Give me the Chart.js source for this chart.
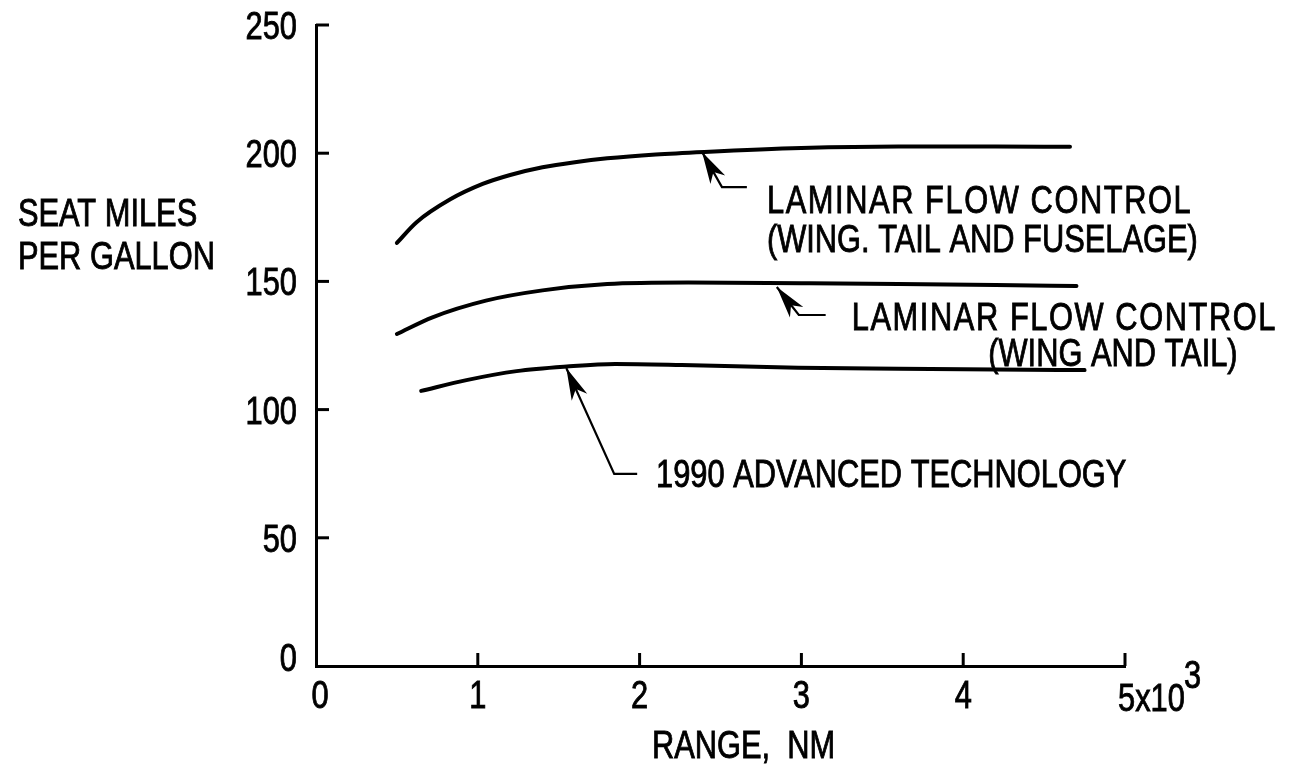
<!DOCTYPE html>
<html>
<head>
<meta charset="utf-8">
<script src="https://cdn.jsdelivr.net/npm/chart.js@4.4.1/dist/chart.umd.min.js"></script>
<style>
  html, body { margin: 0; padding: 0; background: #fff; }
  #wrap { width: 1291px; height: 783px; }
</style>
</head>
<body>
<div id="wrap"><canvas id="myChart"></canvas></div>
<script>
// range in thousands of nautical miles, seat miles per gallon
const xTicks = [0, 1, 2, 3, 4, 5];
const yTicks = [0, 50, 100, 150, 200, 250];

const lfcFullX = [0.5, 0.62, 0.83, 1.03, 1.2, 1.4, 1.6, 1.8, 2.1, 2.4, 3.0, 3.6, 4.2, 4.66];
const lfcFullY = [165, 173, 182, 188, 191.5, 194.5, 196.5, 198, 199.5, 200.5, 202, 202.6, 202.6, 202.5];

const lfcWingX = [0.5, 0.72, 1.05, 1.4, 1.8, 2.3, 3.0, 3.6, 4.2, 4.7];
const lfcWingY = [129.5, 136, 142.5, 146.5, 149, 149.6, 149.3, 149, 148.6, 148.2];

const advX = [0.65, 0.93, 1.24, 1.55, 1.85, 2.26, 2.98, 3.6, 4.2, 4.75];
const advY = [107.3, 111.5, 115, 116.8, 117.8, 117.4, 116.3, 115.9, 115.6, 115.4];

// callouts: arrow tip, elbow, end of leader, then text lines (data units)
const callouts = [
  { tip: [2.386, 200.5], elbow: [2.509, 186.8], end: [2.663, 186.8],
    lines: [{ t: 'LAMINAR FLOW CONTROL', x: 2.787, y: 182.1, sp: 2 },
            { t: '(WING. TAIL AND FUSELAGE)', x: 2.787, y: 166.9, sp: 0 }] },
  { tip: [2.848, 147.8], elbow: [2.984, 136.9], end: [3.150, 136.9],
    lines: [{ t: 'LAMINAR FLOW CONTROL', x: 3.311, y: 136.5, sp: 2 },
            { t: '(WING AND TAIL)', x: 4.155, y: 122.5, sp: 0 }] },
  { tip: [1.547, 116.2], elbow: [1.843, 74.9], end: [1.985, 74.9],
    lines: [{ t: '1990 ADVANCED TECHNOLOGY', x: 2.102, y: 75.3, sp: 0 }] }
];

const FONT = '"Liberation Sans", Arial, sans-serif';
const FSIZE = 39;
const SX = 0.79; // squeeze to look like the narrow lettering

function pts(xs, ys) {
  return xs.map((x, i) => ({ x: x, y: ys[i] }));
}

function curve(xs, ys) {
  return {
    data: pts(xs, ys),
    borderColor: '#000',
    borderWidth: 4,
    pointRadius: 0,
    fill: false,
    cubicInterpolationMode: 'monotone',
    borderCapStyle: 'round'
  };
}

// text centred vertically on cy (cap height), narrow squeeze
function label(ctx, str, x, cy, align, sp, size) {
  size = size || FSIZE;
  ctx.save();
  ctx.font = size + 'px ' + FONT;
  ctx.letterSpacing = (sp || 0) + 'px';
  ctx.textBaseline = 'alphabetic';
  ctx.textAlign = align || 'left';
  ctx.translate(x, cy + size * 0.36);
  ctx.scale(SX, 1);
  ctx.lineWidth = 0.9;
  ctx.fillText(str, 0, 0);
  ctx.strokeText(str, 0, 0);
  ctx.restore();
}

const extras = {
  id: 'extras',
  afterDraw(chart) {
    const ctx = chart.ctx;
    const xs = chart.scales.x, ys = chart.scales.y;
    const area = chart.chartArea;
    ctx.save();
    ctx.strokeStyle = '#000';
    ctx.fillStyle = '#000';

    // inward tick marks
    ctx.lineWidth = 3;
    yTicks.slice(1).forEach(v => {
      const py = ys.getPixelForValue(v);
      ctx.beginPath();
      ctx.moveTo(area.left, py);
      ctx.lineTo(area.left + 13, py);
      ctx.stroke();
    });
    xTicks.slice(1).forEach(v => {
      const px = xs.getPixelForValue(v);
      ctx.beginPath();
      ctx.moveTo(px, area.bottom);
      ctx.lineTo(px, area.bottom - 13);
      ctx.stroke();
    });

    // tick labels
    ys.ticks.forEach(t => {
      const py = ys.getPixelForValue(t.value) - (t.value === 0 ? 9 : 0);
      label(ctx, String(t.value), area.left - 19, py, 'right');
    });
    xs.ticks.forEach(t => {
      const px = xs.getPixelForValue(t.value);
      if (t.value === 5) {
        label(ctx, '5x10', px - 7, 697, 'left');
        label(ctx, '3', px + 59, 674, 'left');
      } else {
        label(ctx, String(t.value), px + (t.value === 0 ? 4 : 0), 694, 'center');
      }
    });

    // axis titles
    label(ctx, 'SEAT MILES', 18, 212, 'left');
    label(ctx, 'PER GALLON', 18, 255, 'left');
    label(ctx, 'RANGE,  NM', 652, 744, 'left');

    // callouts
    callouts.forEach(c => {
      const tx = xs.getPixelForValue(c.tip[0]), ty = ys.getPixelForValue(c.tip[1]);
      const ex = xs.getPixelForValue(c.elbow[0]), ey = ys.getPixelForValue(c.elbow[1]);
      const nx = xs.getPixelForValue(c.end[0]), ny = ys.getPixelForValue(c.end[1]);
      ctx.lineWidth = 2.2;
      ctx.beginPath();
      ctx.moveTo(tx, ty);
      ctx.lineTo(ex, ey);
      ctx.lineTo(nx, ny);
      ctx.stroke();
      // arrow head
      const ang = Math.atan2(ey - ty, ex - tx);
      const len = 32, half = 8.5;
      const bx = tx + Math.cos(ang) * len, by = ty + Math.sin(ang) * len;
      const mx = tx + Math.cos(ang) * len * 0.72, my = ty + Math.sin(ang) * len * 0.72;
      ctx.beginPath();
      ctx.moveTo(tx, ty);
      ctx.lineTo(bx - Math.sin(ang) * half, by + Math.cos(ang) * half);
      ctx.lineTo(mx, my);
      ctx.lineTo(bx + Math.sin(ang) * half, by - Math.cos(ang) * half);
      ctx.closePath();
      ctx.fill();
      c.lines.forEach(l => {
        label(ctx, l.t, xs.getPixelForValue(l.x), ys.getPixelForValue(l.y), 'left', l.sp);
      });
    });
    ctx.restore();
  }
};

const config = {
  type: 'line',
  data: {
    datasets: [curve(lfcFullX, lfcFullY), curve(lfcWingX, lfcWingY), curve(advX, advY)]
  },
  options: {
    responsive: true,
    maintainAspectRatio: false,
    animation: false,
    layout: { padding: { left: 0, right: 166, top: 25, bottom: 0 } },
    plugins: { legend: { display: false }, tooltip: { enabled: false } },
    scales: {
      x: {
        type: 'linear',
        min: 0, max: 5,
        afterFit: s => { s.height = 117; },
        afterBuildTicks: s => { s.ticks = xTicks.map(v => ({ value: v })); },
        grid: { display: false, drawTicks: false },
        border: { display: true, color: '#000', width: 3 },
        ticks: { display: false }
      },
      y: {
        min: 0, max: 250,
        afterFit: s => { s.width = 316; },
        afterBuildTicks: s => { s.ticks = yTicks.map(v => ({ value: v })); },
        grid: { display: false, drawTicks: false },
        border: { display: true, color: '#000', width: 3 },
        ticks: { display: false }
      }
    }
  },
  plugins: [extras]
};

const myChart = new Chart(document.getElementById('myChart'), config);
</script>
</body>
</html>
